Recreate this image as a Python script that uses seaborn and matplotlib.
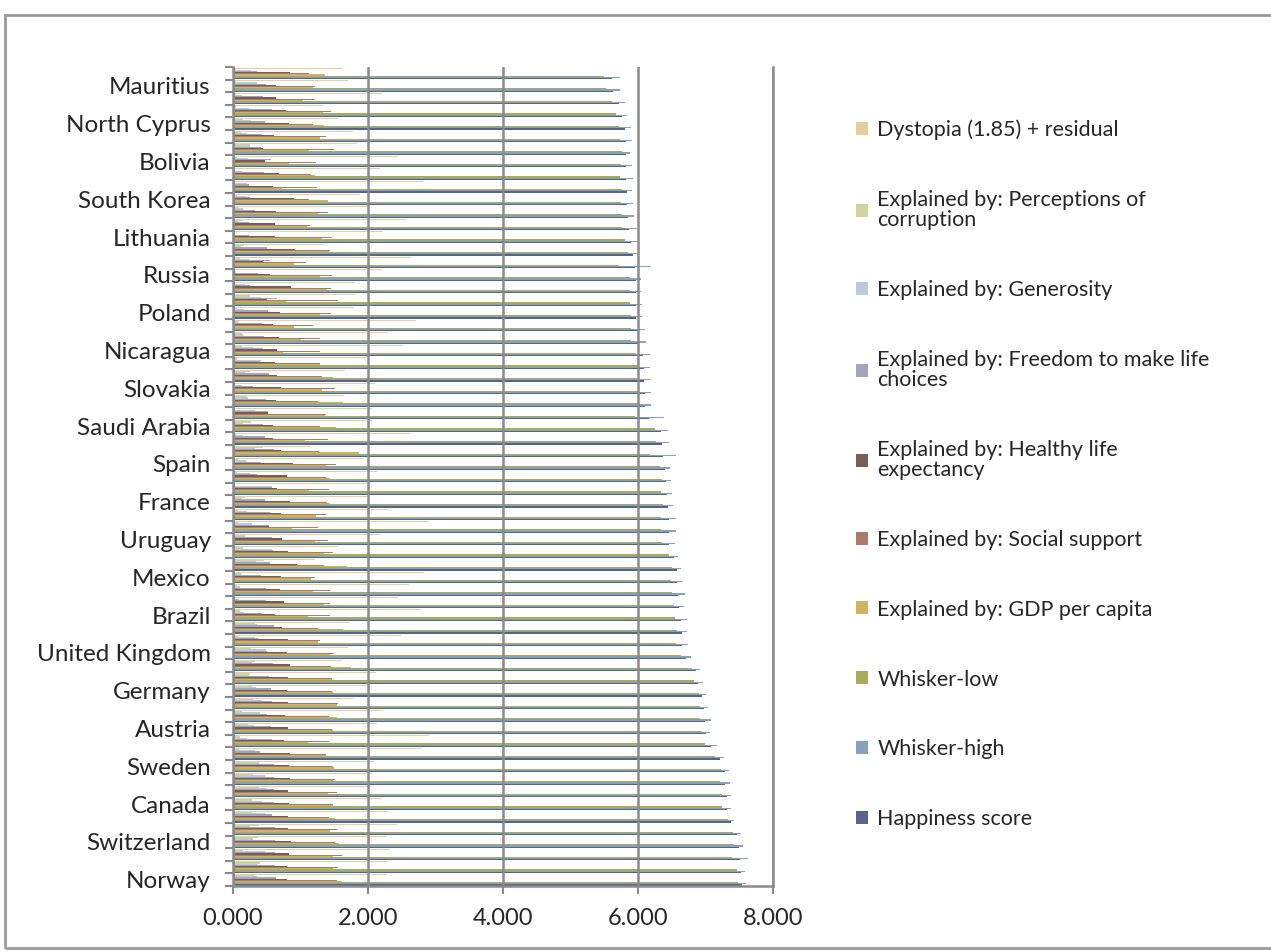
import numpy as np
import pandas as pd
import matplotlib
matplotlib.use("Agg")
import matplotlib.pyplot as plt
import matplotlib.patches as mpatches
import seaborn as sns

# World Happiness Report 2017, ranks 1-65 (Norway first)
countries = ["Norway", "Denmark", "Iceland", "Switzerland", "Finland", "Netherlands",
             "Canada", "New Zealand", "Australia", "Sweden", "Israel", "Costa Rica",
             "Austria", "United States", "Ireland", "Germany", "Belgium", "Luxembourg",
             "United Kingdom", "Chile", "United Arab Emirates", "Brazil", "Czech Republic",
             "Argentina", "Mexico", "Singapore", "Malta", "Uruguay", "Guatemala", "Panama",
             "France", "Thailand", "Taiwan", "Spain", "Qatar", "Colombia", "Saudi Arabia",
             "Trinidad and Tobago", "Kuwait", "Slovakia", "Bahrain", "Malaysia", "Nicaragua",
             "Ecuador", "El Salvador", "Poland", "Uzbekistan", "Italy", "Russia", "Belize",
             "Japan", "Lithuania", "Algeria", "Latvia", "South Korea", "Moldova", "Romania",
             "Bolivia", "Turkmenistan", "Kazakhstan", "North Cyprus", "Slovenia", "Peru",
             "Mauritius", "Cyprus"]

happiness = [7.537, 7.522, 7.504, 7.494, 7.469, 7.377, 7.316, 7.314, 7.284, 7.284,
             7.213, 7.079, 7.006, 6.993, 6.977, 6.951, 6.891, 6.863, 6.714, 6.652,
             6.648, 6.635, 6.609, 6.599, 6.578, 6.572, 6.527, 6.454, 6.454, 6.452,
             6.442, 6.424, 6.422, 6.403, 6.375, 6.357, 6.344, 6.168, 6.105, 6.098,
             6.087, 6.084, 6.071, 6.008, 6.003, 5.973, 5.971, 5.964, 5.963, 5.956,
             5.920, 5.902, 5.872, 5.850, 5.838, 5.838, 5.825, 5.823, 5.822, 5.819,
             5.810, 5.758, 5.715, 5.629, 5.621]

whisker_high = [7.594, 7.582, 7.622, 7.562, 7.528, 7.427, 7.384, 7.380, 7.357, 7.344,
                7.280, 7.168, 7.071, 7.075, 7.043, 7.005, 6.956, 6.924, 6.784, 6.739,
                6.722, 6.725, 6.684, 6.690, 6.671, 6.637, 6.598, 6.546, 6.567, 6.557,
                6.520, 6.509, 6.495, 6.481, 6.568, 6.452, 6.437, 6.385, 6.192, 6.196,
                6.187, 6.171, 6.177, 6.115, 6.108, 6.053, 6.066, 6.040, 6.051, 6.197,
                5.992, 5.991, 5.978, 5.937, 5.923, 5.908, 5.923, 5.904, 5.885, 5.904,
                5.899, 5.842, 5.811, 5.730, 5.740]

whisker_low = [7.480, 7.462, 7.386, 7.426, 7.410, 7.327, 7.248, 7.248, 7.211, 7.224,
               7.146, 6.990, 6.941, 6.911, 6.911, 6.897, 6.826, 6.802, 6.644, 6.565,
               6.574, 6.545, 6.534, 6.508, 6.485, 6.507, 6.456, 6.362, 6.341, 6.347,
               6.364, 6.339, 6.349, 6.325, 6.182, 6.262, 6.251, 5.951, 6.018, 6.000,
               5.987, 5.997, 5.965, 5.901, 5.898, 5.893, 5.876, 5.888, 5.875, 5.715,
               5.848, 5.813, 5.766, 5.763, 5.753, 5.768, 5.727, 5.742, 5.759, 5.734,
               5.721, 5.674, 5.619, 5.528, 5.502]

gdp = [1.616, 1.482, 1.481, 1.565, 1.444, 1.504, 1.479, 1.406, 1.484, 1.494,
       1.375, 1.110, 1.487, 1.546, 1.536, 1.488, 1.464, 1.742, 1.442, 1.253,
       1.626, 1.107, 1.353, 1.185, 1.153, 1.692, 1.343, 1.218, 0.872, 1.234,
       1.431, 1.128, 1.434, 1.384, 1.871, 1.071, 1.531, 1.361, 1.633, 1.325,
       1.488, 1.291, 0.737, 1.001, 0.910, 1.292, 0.786, 1.395, 1.282, 0.908,
       1.418, 1.315, 1.092, 1.261, 1.402, 0.729, 1.218, 0.834, 1.131, 1.285,
       1.347, 1.341, 1.035, 1.189, 1.356]

social = [1.534, 1.551, 1.611, 1.517, 1.540, 1.429, 1.481, 1.548, 1.510, 1.478,
          1.376, 1.416, 1.460, 1.420, 1.558, 1.473, 1.462, 1.458, 1.496, 1.284,
          1.266, 1.431, 1.434, 1.440, 1.211, 1.354, 1.488, 1.412, 1.256, 1.373,
          1.388, 1.426, 1.385, 1.532, 1.274, 1.402, 1.287, 1.380, 1.260, 1.505,
          1.323, 1.285, 1.287, 1.286, 1.182, 1.446, 1.549, 1.445, 1.469, 1.081,
          1.436, 1.474, 1.146, 1.405, 1.128, 1.252, 1.150, 1.228, 1.493, 1.384,
          1.186, 1.453, 1.219, 1.210, 1.131]

health = [0.797, 0.793, 0.834, 0.858, 0.809, 0.811, 0.835, 0.817, 0.844, 0.831,
          0.838, 0.760, 0.815, 0.774, 0.810, 0.799, 0.818, 0.845, 0.805, 0.819,
          0.727, 0.617, 0.754, 0.695, 0.710, 0.949, 0.822, 0.719, 0.540, 0.706,
          0.844, 0.647, 0.794, 0.889, 0.710, 0.595, 0.590, 0.520, 0.632, 0.713,
          0.653, 0.619, 0.653, 0.686, 0.596, 0.699, 0.498, 0.853, 0.547, 0.450,
          0.913, 0.629, 0.618, 0.639, 0.900, 0.589, 0.685, 0.474, 0.438, 0.606,
          0.835, 0.791, 0.630, 0.638, 0.845]

freedom = [0.635, 0.626, 0.627, 0.620, 0.618, 0.585, 0.611, 0.614, 0.602, 0.613,
           0.406, 0.580, 0.568, 0.506, 0.573, 0.563, 0.540, 0.597, 0.508, 0.377,
           0.608, 0.437, 0.491, 0.495, 0.413, 0.550, 0.589, 0.579, 0.531, 0.550,
           0.470, 0.580, 0.361, 0.409, 0.604, 0.477, 0.450, 0.519, 0.496, 0.296,
           0.537, 0.402, 0.448, 0.455, 0.432, 0.520, 0.658, 0.256, 0.374, 0.548,
           0.506, 0.234, 0.233, 0.326, 0.258, 0.241, 0.457, 0.559, 0.418, 0.437,
           0.471, 0.573, 0.450, 0.491, 0.355]

generosity = [0.362, 0.355, 0.476, 0.291, 0.245, 0.470, 0.436, 0.500, 0.478, 0.385,
              0.330, 0.215, 0.316, 0.393, 0.428, 0.336, 0.232, 0.283, 0.493, 0.327,
              0.361, 0.162, 0.088, 0.109, 0.121, 0.346, 0.575, 0.175, 0.283, 0.211,
              0.130, 0.572, 0.258, 0.190, 0.330, 0.149, 0.148, 0.325, 0.228, 0.137,
              0.173, 0.417, 0.302, 0.150, 0.078, 0.158, 0.416, 0.173, 0.052, 0.240,
              0.121, 0.010, 0.069, 0.153, 0.207, 0.209, 0.134, 0.226, 0.250, 0.202,
              0.267, 0.243, 0.127, 0.361, 0.271]

corruption = [0.316, 0.401, 0.154, 0.367, 0.383, 0.283, 0.287, 0.383, 0.301, 0.384,
              0.085, 0.100, 0.221, 0.136, 0.298, 0.277, 0.251, 0.319, 0.265, 0.082,
              0.324, 0.111, 0.037, 0.060, 0.133, 0.464, 0.153, 0.178, 0.077, 0.071,
              0.173, 0.032, 0.064, 0.071, 0.439, 0.047, 0.273, 0.009, 0.215, 0.024,
              0.257, 0.066, 0.131, 0.140, 0.090, 0.059, 0.247, 0.028, 0.033, 0.097,
              0.164, 0.012, 0.146, 0.074, 0.063, 0.010, 0.004, 0.060, 0.259, 0.119,
              0.155, 0.045, 0.047, 0.042, 0.041]

dystopia = [2.277, 2.314, 2.323, 2.277, 2.430, 2.295, 2.187, 2.046, 2.065, 2.098,
            2.802, 2.899, 2.139, 2.218, 1.774, 2.016, 2.124, 1.620, 1.704, 2.510,
            1.735, 2.769, 2.452, 2.614, 2.837, 1.216, 1.557, 2.172, 2.894, 2.307,
            2.006, 2.040, 2.127, 1.928, 1.145, 2.616, 2.065, 2.054, 1.640, 2.098,
            1.656, 2.004, 2.514, 2.290, 2.715, 1.798, 1.817, 1.814, 2.206, 2.632,
            1.362, 2.229, 2.568, 1.994, 1.880, 2.809, 2.177, 2.443, 1.833, 1.784,
            1.549, 1.335, 2.207, 1.698, 1.621]

# series in legend order (top to bottom)
series_names = ["Dystopia (1.85) + residual",
                "Explained by: Perceptions of\ncorruption",
                "Explained by: Generosity",
                "Explained by: Freedom to make life\nchoices",
                "Explained by: Healthy life\nexpectancy",
                "Explained by: Social support",
                "Explained by: GDP per capita",
                "Whisker-low",
                "Whisker-high",
                "Happiness score"]
series_values = [dystopia, corruption, generosity, freedom, health,
                 social, gdp, whisker_low, whisker_high, happiness]
series_colors = ["#F3D48F", "#D9DC95", "#B4CADD", "#9DA2C3", "#7B5A50",
                 "#B47561", "#E4BA4F", "#B3BA4B", "#80A3C1", "#4F5E94"]

df = pd.DataFrame({name: vals for name, vals in zip(series_names, series_values)})
df["Country"] = countries
long_df = df.melt(id_vars="Country", var_name="Series", value_name="Value")

# Norway at the bottom, Cyprus at the top
order = countries[::-1]

sns.set_style("white")
plt.rcParams["font.family"] = ["Lato", "DejaVu Sans"]

fig = plt.figure(figsize=(12.71, 9.52), dpi=100)
ax = fig.add_axes([0.1833, 0.0693, 0.4249, 0.8603])

sns.barplot(data=long_df, y="Country", x="Value", hue="Series",
            order=order, hue_order=series_names, palette=series_colors,
            orient="h", width=0.92, errorbar=None, linewidth=0, ax=ax)

ax.set_xlim(0, 8)
ax.set_xticks([0, 2, 4, 6, 8])
ax.set_xticklabels([f"{v:.3f}" for v in [0, 2, 4, 6, 8]], fontsize=17)
ax.set_xlabel("")
ax.set_ylabel("")

# label every third country, tick marks between categories
n = len(order)
label_pos = [i for i in range(n) if (n - 1 - i) % 3 == 0]
ax.set_yticks(label_pos)
ax.set_yticklabels([order[i] for i in label_pos], fontsize=17.5)
ax.set_yticks(np.arange(-0.5, n, 1), minor=True)
ax.tick_params(axis="y", which="major", length=0, pad=16)
ax.tick_params(axis="y", which="minor", length=6, width=1.5, color="#8a8a8a", left=True)
ax.tick_params(axis="x", which="major", length=6, width=1.5, color="#8a8a8a",
               bottom=True, pad=10)
ax.set_ylim(n - 0.5, -0.5)

ax.grid(axis="x", color="#8a8a8a", linewidth=1.8)
ax.set_axisbelow(False)
for side in ["left", "bottom", "right"]:
    ax.spines[side].set_color("#8a8a8a")
    ax.spines[side].set_linewidth(1.8)
ax.spines["top"].set_visible(False)

sns.move_legend(ax, "upper left", bbox_to_anchor=(0.658, 0.895),
                bbox_transform=fig.transFigure, frameon=False, title=None,
                fontsize=15.5, labelspacing=2.32, handlelength=0.55,
                handleheight=0.55, handletextpad=0.45)
for t in ax.get_legend().get_texts():
    t.set_linespacing(1.0)

# outer chart border
fig.patches.append(mpatches.Rectangle((0.004, 0.004), 1.2, 0.98, transform=fig.transFigure,
                                      fill=False, edgecolor="#9a9a9a", linewidth=2))

fig.savefig("out.png", dpi=100, facecolor="white")
